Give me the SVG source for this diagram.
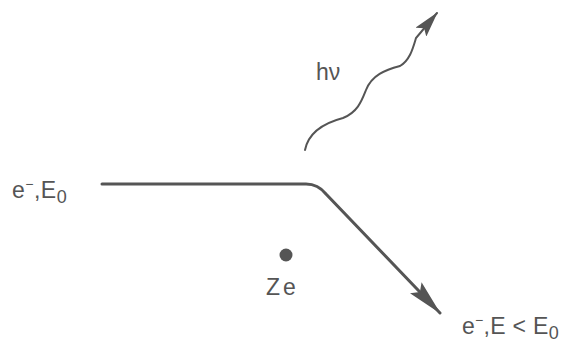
<svg xmlns="http://www.w3.org/2000/svg" width="570" height="347" viewBox="0 0 570 347">
<style>
.t{font-family:"Liberation Sans",Arial,sans-serif;fill:#555;font-size:23px}
.ln{fill:none;stroke:#555;stroke-linecap:round}
</style>
<defs>
<marker id="ah2" markerWidth="36" markerHeight="16" refX="35" refY="8" orient="auto" markerUnits="userSpaceOnUse" viewBox="0 0 36 16">
<path d="M0,0 L36,8 L0,16 L6,8 Z" fill="#555"/>
</marker>
<marker id="ah3" markerWidth="26" markerHeight="14" refX="25" refY="7" orient="auto" markerUnits="userSpaceOnUse" viewBox="0 0 26 14">
<path d="M0,0 L26,7 L0,14 L5,7 Z" fill="#555"/>
</marker>
</defs>
<g id="connectors">
<path id="electron-path" class="ln" stroke-width="3" d="M102,184 L306,184 Q318,184 326,194 L440,313" marker-end="url(#ah2)"/>
<path id="photon" class="ln" stroke-width="2" d="M305,150 C308,135 320,124 343,118 C358,112 362,100 366,90 C372,75 385,70 400,66 C410,60 413,48 416,38 L437,13" marker-end="url(#ah3)"/>
</g>
<g id="nucleus">
<circle cx="286" cy="255" r="6.5" fill="#555"/>
<text class="t" x="266" y="295" letter-spacing="3">Ze</text>
</g>
<g id="incoming-label">
<text class="t" x="12" y="198" letter-spacing="0.5">e<tspan dy="-9" font-size="14">−</tspan><tspan dy="9">,E</tspan><tspan dy="5" font-size="18">0</tspan></text>
</g>
<g id="outgoing-label">
<text class="t" x="462" y="334" letter-spacing="0.3">e<tspan dy="-9" font-size="14">−</tspan><tspan dy="9">,E &lt; E</tspan><tspan dy="5" font-size="18">0</tspan></text>
</g>
<g id="photon-label">
<text class="t" x="316" y="80">hν</text>
</g>
</svg>
